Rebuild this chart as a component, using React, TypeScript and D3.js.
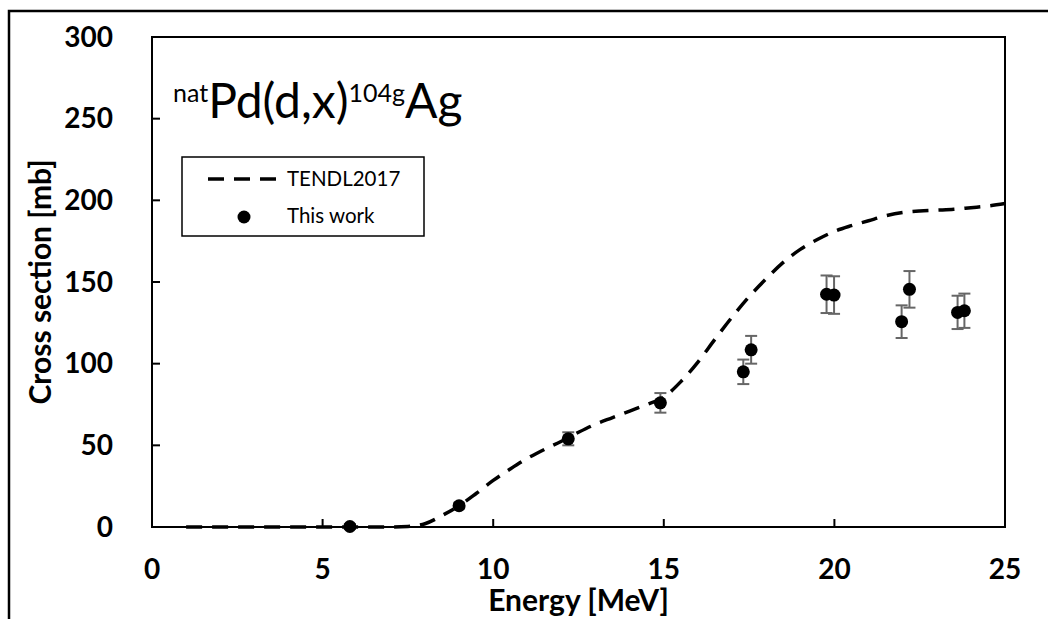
import React from "react";
import * as d3 from "d3";

// TENDL2017 curve
const tendlEnergy = [1, 2, 3, 4, 5, 6, 7, 7.5, 8, 8.5, 9, 9.5, 10, 10.5, 11, 11.5, 12, 12.5, 13, 13.5, 14, 14.5, 15, 15.5, 16, 16.5, 17, 17.5, 18, 18.5, 19, 19.5, 20, 20.5, 21, 21.5, 22, 22.5, 23, 23.5, 24, 24.5, 25];
const tendlXs = [0, 0, 0, 0, 0, 0, 0, 0.3, 2, 7, 13, 20.5, 28.5, 35.5, 42, 47.5, 52.5, 58, 63, 67, 71, 75, 79.5, 89, 101, 115, 128.5, 141, 152, 162, 170, 176, 181, 184.5, 187.5, 190.5, 192.5, 193.5, 194, 194.5, 195.5, 196.5, 198];

// This work
const expEnergy = [5.8, 9.0, 12.2, 14.9, 17.33, 17.56, 19.77, 19.99, 21.97, 22.2, 23.61, 23.81];
const expXs = [0.3, 13, 54, 76, 95, 108.5, 142.5, 142, 125.7, 145.5, 131.4, 132.4];
const expErr = [1.5, 1.5, 4, 6, 7.5, 8.5, 11.5, 11.5, 10, 11.2, 10.2, 10.5];

const xTicks = [0, 5, 10, 15, 20, 25];
const yTicks = [0, 50, 100, 150, 200, 250, 300];

const legendLabels = ["TENDL2017", "This work"];

const W = 1048;
const H = 619;
const left = 152, right = 1005, top = 37, bottom = 527;

export default function App() {
  const x = d3.scaleLinear().domain([0, 25]).range([left, right]);
  const y = d3.scaleLinear().domain([0, 300]).range([bottom, top]);

  const line = d3
    .line<number>()
    .x((_, i) => x(tendlEnergy[i]))
    .y((d) => y(d))
    .curve(d3.curveMonotoneX);

  const tickFont = "Lato, 'Open Sans', sans-serif";

  return (
    <svg
      width={W}
      height={H}
      style={{ position: "absolute", left: 0, top: 0, background: "#fff" }}
    >
      <rect x={0} y={0} width={W} height={H} fill="#fff" />
      {/* outer frame */}
      <rect x={9} y={11} width={1200} height={800} fill="none" stroke="#000" strokeWidth={2.5} />

      {/* plot frame */}
      <rect x={left} y={top} width={right - left} height={bottom - top} fill="none" stroke="#000" strokeWidth={2} />

      {/* x ticks */}
      {xTicks.map((t) => (
        <g key={"xt" + t}>
          <line x1={x(t)} x2={x(t)} y1={bottom} y2={bottom - 8} stroke="#000" strokeWidth={2} />
          <text
            x={x(t)}
            y={579}
            textAnchor="middle"
            fontFamily={tickFont}
            fontWeight="bold"
            fontSize={28}
            fill="#000"
          >
            {t}
          </text>
        </g>
      ))}

      {/* y ticks */}
      {yTicks.map((t) => (
        <g key={"yt" + t}>
          <line x1={left} x2={left + 8} y1={y(t)} y2={y(t)} stroke="#000" strokeWidth={2} />
          <text
            x={113}
            y={y(t)}
            dy="0.35em"
            textAnchor="end"
            fontFamily={tickFont}
            fontWeight="bold"
            fontSize={28}
            fill="#000"
          >
            {t}
          </text>
        </g>
      ))}

      {/* axis titles */}
      <text
        x={(left + right) / 2}
        y={611}
        textAnchor="middle"
        fontFamily={tickFont}
        fontWeight="bold"
        fontSize={30}
        fill="#000"
      >
        Energy [MeV]
      </text>
      <text
        transform={`translate(51, ${(top + bottom) / 2}) rotate(-90)`}
        textAnchor="middle"
        fontFamily={tickFont}
        fontWeight="bold"
        fontSize={30}
        fill="#000"
      >
        Cross section [mb]
      </text>

      {/* TENDL curve */}
      <path
        d={line(tendlXs) || ""}
        fill="none"
        stroke="#000"
        strokeWidth={3.5}
        strokeDasharray="16,10"
      />

      {/* error bars */}
      {expEnergy.map((e, i) => {
        const cx = x(e);
        const y1 = y(expXs[i] + expErr[i]);
        const y0 = y(expXs[i] - expErr[i]);
        return (
          <g key={"eb" + i} stroke="#666" strokeWidth={2}>
            <line x1={cx} x2={cx} y1={y1} y2={y0} />
            <line x1={cx - 6} x2={cx + 6} y1={y1} y2={y1} />
            <line x1={cx - 6} x2={cx + 6} y1={y0} y2={y0} />
          </g>
        );
      })}
      {/* points */}
      {expEnergy.map((e, i) => (
        <circle key={"pt" + i} cx={x(e)} cy={y(expXs[i])} r={6.5} fill="#000" />
      ))}

      {/* title */}
      <text x={173} y={118} fontFamily={tickFont} fill="#000">
        <tspan fontSize={25} dy={-16}>nat</tspan>
        <tspan fontSize={48} dy={16}>Pd(d,x)</tspan>
        <tspan fontSize={25} dy={-16}>104g</tspan>
        <tspan fontSize={48} dy={16}>Ag</tspan>
      </text>

      {/* legend */}
      <rect x={182} y={157} width={242} height={79} fill="#fff" stroke="#000" strokeWidth={1.5} />
      <line x1={208} x2={277} y1={179} y2={179} stroke="#000" strokeWidth={3.5} strokeDasharray="16,10" />
      <text x={287} y={186} fontFamily={tickFont} fontSize={20.5} fill="#000">
        {legendLabels[0]}
      </text>
      <circle cx={244} cy={217} r={6.5} fill="#000" />
      <text x={287} y={223} fontFamily={tickFont} fontSize={20.5} fill="#000">
        {legendLabels[1]}
      </text>
    </svg>
  );
}
